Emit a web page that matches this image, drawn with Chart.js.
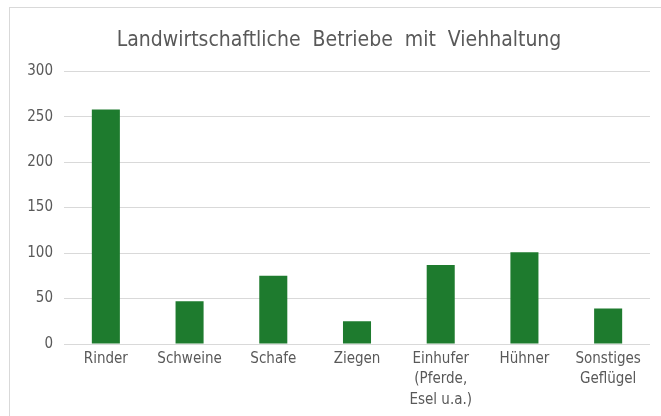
<!DOCTYPE html>
<html>
<head>
<meta charset="utf-8">
<script src="https://cdn.jsdelivr.net/npm/chart.js@4/dist/chart.umd.min.js"></script>
<style>
  html, body { margin: 0; padding: 0; background: #fff; }
  #wrap { position: relative; width: 661px; height: 416px; overflow: hidden; }
  #frame { position: absolute; left: 9px; top: 7px; width: 700px; height: 460px; border: 1px solid #d9d9d9; }
  #chart { position: absolute; left: 0; top: 0; }
</style>
</head>
<body>
<div id="wrap">
  <div id="frame"></div>
  <canvas id="chart" width="661" height="416"></canvas>
</div>
<script>
// ── Data ─────────────────────────────────────────────────────────────────────
const categories = [
  'Rinder',
  'Schweine',
  'Schafe',
  'Ziegen',
  ['Einhufer', '(Pferde,', 'Esel u.a.)'],
  'Hühner',
  ['Sonstiges', 'Geflügel'],
];
const betriebe = [258, 47, 75, 25, 87, 101, 39];
const yTicks   = [0, 50, 100, 150, 200, 250, 300];

const FONT = '"Liberation Sans Narrow", "DejaVu Sans Condensed", sans-serif';
const GREY = '#595959';

// nudge the title a bit to the right, like in the original
const titleShift = {
  id: 'titleShift',
  afterLayout(chart) {
    const t = chart.titleBlock;
    if (t) { t.left += 14; t.right += 14; }
  },
};

// ── Chart ────────────────────────────────────────────────────────────────────
new Chart(document.getElementById('chart'), {
  type: 'bar',
  data: {
    labels: categories,
    datasets: [{
      label: 'Betriebe',
      data: betriebe,
      backgroundColor: '#1e7b2e',
      categoryPercentage: 1,
      barPercentage: 0.335,
    }],
  },
  plugins: [titleShift],
  options: {
    responsive: false,
    animation: false,
    layout: { padding: { left: 0, right: 11, top: 0, bottom: 0 } },
    plugins: {
      legend: { display: false },
      tooltip: { enabled: false },
      title: {
        display: true,
        text: 'Landwirtschaftliche  Betriebe  mit  Viehhaltung',
        color: GREY,
        font: { family: FONT, size: 21, weight: 'normal' },
        padding: { top: 28, bottom: 18 },
      },
    },
    scales: {
      x: {
        grid: { display: false, drawTicks: false },
        border: { display: false },
        ticks: {
          color: GREY,
          font: { family: FONT, size: 15, lineHeight: 1.35 },
          padding: 5,
          maxRotation: 0,
          autoSkip: false,
        },
        afterFit(scale) { scale.height = 72; },
      },
      y: {
        min: 0,
        max: 300,
        afterBuildTicks(scale) { scale.ticks = yTicks.map(v => ({ value: v })); },
        grid: { color: '#d9d9d9', drawTicks: false },
        border: { display: false },
        ticks: {
          color: GREY,
          font: { family: FONT, size: 15 },
          padding: 11,
        },
        afterFit(scale) { scale.width = 64; },
      },
    },
  },
});
</script>
</body>
</html>
